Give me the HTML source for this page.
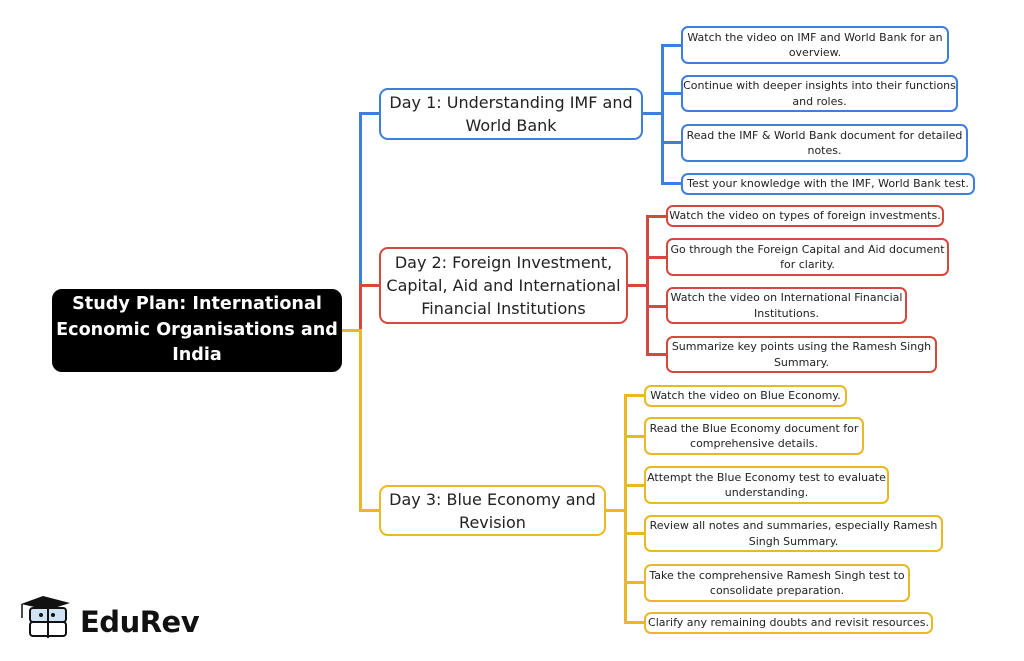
<!DOCTYPE html>
<html><head><meta charset="utf-8"><style>
body{margin:0;width:1024px;height:661px;background:#fff;position:relative;overflow:hidden;font-family:"DejaVu Sans","Liberation Sans",sans-serif;}
.b{position:absolute;box-sizing:border-box;border:2.5px solid;border-radius:7px;background:#fff;display:flex;align-items:center;justify-content:center;text-align:center;color:#222;white-space:nowrap;}
.l{font-size:11px;line-height:15.5px;padding:0;}
.d{font-size:16px;line-height:23px;border-radius:9px;}
.bl{border-color:#3f7fd9}.rd{border-color:#d24a3e}.yl{border-color:#e9b824}
.ln{position:absolute;}
</style></head><body>
<div class="b" style="left:52px;top:289px;width:290px;height:83px;background:#000;border-color:#000;border-radius:10px;color:#fff;font-weight:bold;font-size:17.6px;line-height:25.5px;">Study Plan: International<br>Economic Organisations and<br>India</div>
<div class="ln" style="left:342px;top:329px;width:19px;height:3px;background:#e9b824"></div>
<div class="ln" style="left:359px;top:112px;width:3px;height:174px;background:#3f7fd9"></div>
<div class="ln" style="left:359px;top:284px;width:3px;height:46px;background:#d24a3e"></div>
<div class="ln" style="left:359px;top:329px;width:3px;height:182px;background:#e9b824"></div>
<div class="ln" style="left:359px;top:112px;width:21px;height:3px;background:#3f7fd9"></div>
<div class="ln" style="left:359px;top:284px;width:21px;height:3px;background:#d24a3e"></div>
<div class="ln" style="left:359px;top:509px;width:21px;height:3px;background:#e9b824"></div>
<div class="b d bl" style="left:379px;top:88px;width:264px;height:52px;">Day 1: Understanding IMF and<br>World Bank</div>
<div class="ln" style="left:643px;top:112px;width:20px;height:3px;background:#3f7fd9"></div>
<div class="ln" style="left:661px;top:44px;width:3px;height:141px;background:#3f7fd9"></div>
<div class="ln" style="left:661px;top:44px;width:21px;height:3px;background:#3f7fd9"></div>
<div class="ln" style="left:661px;top:92px;width:21px;height:3px;background:#3f7fd9"></div>
<div class="ln" style="left:661px;top:141px;width:21px;height:3px;background:#3f7fd9"></div>
<div class="ln" style="left:661px;top:182px;width:21px;height:3px;background:#3f7fd9"></div>
<div class="b l bl" style="left:681px;top:26px;width:268px;height:38px;">Watch the video on IMF and World Bank for an<br>overview.</div>
<div class="b l bl" style="left:681px;top:75px;width:277px;height:37px;">Continue with deeper insights into their functions<br>and roles.</div>
<div class="b l bl" style="left:681px;top:124px;width:287px;height:38px;">Read the IMF &amp; World Bank document for detailed<br>notes.</div>
<div class="b l bl" style="left:681px;top:173px;width:294px;height:22px;">Test your knowledge with the IMF, World Bank test.</div>
<div class="b d rd" style="left:379px;top:247px;width:249px;height:77px;">Day 2: Foreign Investment,<br>Capital, Aid and International<br>Financial Institutions</div>
<div class="ln" style="left:628px;top:284px;width:20px;height:3px;background:#d24a3e"></div>
<div class="ln" style="left:646px;top:215px;width:3px;height:141px;background:#d24a3e"></div>
<div class="ln" style="left:646px;top:215px;width:21px;height:3px;background:#d24a3e"></div>
<div class="ln" style="left:646px;top:256px;width:21px;height:3px;background:#d24a3e"></div>
<div class="ln" style="left:646px;top:305px;width:21px;height:3px;background:#d24a3e"></div>
<div class="ln" style="left:646px;top:353px;width:21px;height:3px;background:#d24a3e"></div>
<div class="b l rd" style="left:666px;top:205px;width:278px;height:22px;">Watch the video on types of foreign investments.</div>
<div class="b l rd" style="left:666px;top:238px;width:283px;height:38px;">Go through the Foreign Capital and Aid document<br>for clarity.</div>
<div class="b l rd" style="left:666px;top:287px;width:241px;height:37px;">Watch the video on International Financial<br>Institutions.</div>
<div class="b l rd" style="left:666px;top:336px;width:271px;height:37px;">Summarize key points using the Ramesh Singh<br>Summary.</div>
<div class="b d yl" style="left:379px;top:485px;width:227px;height:51px;">Day 3: Blue Economy and<br>Revision</div>
<div class="ln" style="left:606px;top:509px;width:20px;height:3px;background:#e9b824"></div>
<div class="ln" style="left:624px;top:394px;width:3px;height:230px;background:#e9b824"></div>
<div class="ln" style="left:624px;top:394px;width:21px;height:3px;background:#e9b824"></div>
<div class="ln" style="left:624px;top:435px;width:21px;height:3px;background:#e9b824"></div>
<div class="ln" style="left:624px;top:484px;width:21px;height:3px;background:#e9b824"></div>
<div class="ln" style="left:624px;top:532px;width:21px;height:3px;background:#e9b824"></div>
<div class="ln" style="left:624px;top:581px;width:21px;height:3px;background:#e9b824"></div>
<div class="ln" style="left:624px;top:621px;width:21px;height:3px;background:#e9b824"></div>
<div class="b l yl" style="left:644px;top:385px;width:203px;height:22px;">Watch the video on Blue Economy.</div>
<div class="b l yl" style="left:644px;top:417px;width:220px;height:38px;">Read the Blue Economy document for<br>comprehensive details.</div>
<div class="b l yl" style="left:644px;top:466px;width:245px;height:38px;">Attempt the Blue Economy test to evaluate<br>understanding.</div>
<div class="b l yl" style="left:644px;top:515px;width:299px;height:37px;">Review all notes and summaries, especially Ramesh<br>Singh Summary.</div>
<div class="b l yl" style="left:644px;top:564px;width:266px;height:38px;">Take the comprehensive Ramesh Singh test to<br>consolidate preparation.</div>
<div class="b l yl" style="left:644px;top:612px;width:289px;height:22px;">Clarify any remaining doubts and revisit resources.</div>
<svg style="position:absolute;left:18px;top:594px" width="56" height="50" viewBox="0 0 56 50">
<polygon points="3,10 25,2 52,9 30,16" fill="#111"/>
<line x1="4" y1="10" x2="4" y2="24" stroke="#111" stroke-width="1.5"/>
<rect x="12" y="14" width="36" height="14" rx="3" fill="#cfe3f5" stroke="#111" stroke-width="2"/>
<rect x="12" y="28" width="36" height="14" rx="3" fill="#fff" stroke="#111" stroke-width="2"/>
<line x1="30" y1="14" x2="30" y2="44" stroke="#111" stroke-width="2"/>
<circle cx="23" cy="21" r="2" fill="#111"/><circle cx="35" cy="21" r="2" fill="#111"/>
</svg>
<div style="position:absolute;left:80px;top:604px;font-family:'DejaVu Sans',sans-serif;font-size:29px;font-weight:bold;color:#111;line-height:36px;letter-spacing:-0.5px;">EduRev</div>
</body></html>
